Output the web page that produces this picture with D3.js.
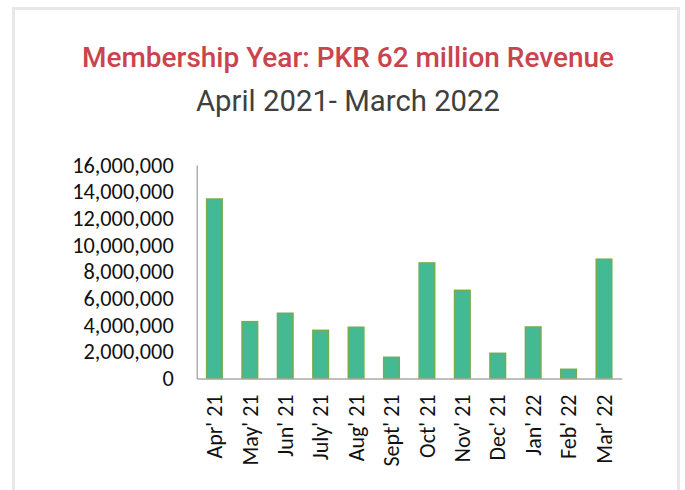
<!DOCTYPE html>
<html><head><meta charset="utf-8">
<script src="https://cdn.jsdelivr.net/npm/d3@7"></script>
<style>body{margin:0;background:#fff}svg{display:block}</style>
</head><body>
<svg id="c" width="685" height="490"></svg>
<script>
const titleText = "Membership Year: PKR 62 million Revenue";
const subtitleText = "April 2021- March 2022";
const months = ["Apr' 21","May' 21","Jun' 21","July' 21","Aug' 21","Sept' 21","Oct' 21","Nov' 21","Dec' 21","Jan' 22","Feb' 22","Mar' 22"];
const revenue = [13450000,4260000,4890000,3610000,3840000,1590000,8660000,6610000,1890000,3860000,690000,8940000];
const yTicks = [0,2000000,4000000,6000000,8000000,10000000,12000000,14000000,16000000];

const svg = d3.select("#c");
svg.append("rect").attr("x",13.5).attr("y",8.5).attr("width",665).attr("height",500)
  .attr("fill","none").attr("stroke","#e8e8e8").attr("stroke-width",3);

const t1 = svg.append("text").attr("x",348).attr("y",67).attr("text-anchor","middle")
  .attr("font-family","Roboto").attr("font-weight",500).attr("font-size",27).attr("fill","#c9444c").text(titleText);
const t2 = svg.append("text").attr("x",348).attr("y",111).attr("text-anchor","middle")
  .attr("font-family","Roboto").attr("font-size",29.5).attr("fill","#404040").text(subtitleText);
t1.attr("textLength",532).attr("lengthAdjust","spacingAndGlyphs");
t2.attr("textLength",304).attr("lengthAdjust","spacingAndGlyphs");

const x = d3.scaleBand().domain(months).range([196.7,621.7]).paddingInner(0.56).paddingOuter(0.28);
const y = d3.scaleLinear().domain([0,16000000]).range([378.5,165]);

const g = svg.append("g");
g.selectAll("rect.bar").data(revenue).join("rect").attr("class","bar")
  .attr("x",(d,i)=>x(months[i])).attr("width",x.bandwidth())
  .attr("y",d=>y(d)).attr("height",d=>y(0)-y(d))
  .attr("fill","#43ba94").attr("stroke","#74ad4c").attr("stroke-width",1.5);

const labelFont = "Carlito, Liberation Sans, Arial";
const yAxis = g.append("g").attr("transform","translate(196.7,0)")
  .call(d3.axisLeft(y).tickValues(yTicks).tickSize(0).tickPadding(23).tickFormat(d3.format(",")));
yAxis.select(".domain").attr("stroke","#999").attr("stroke-width",1.2);
yAxis.selectAll("text").attr("font-family",labelFont).attr("font-size",22.3).attr("fill","#111");

const xAxis = g.append("g").attr("transform","translate(0,378.5)")
  .call(d3.axisBottom(x).tickSize(0).tickPadding(0));
xAxis.select(".domain").attr("stroke","#aaa").attr("stroke-width",1.5);
xAxis.selectAll("text").attr("font-family",labelFont).attr("font-size",22).attr("fill","#111")
  .attr("transform","rotate(-90)").attr("text-anchor","end").attr("dy","0.35em").attr("x",-16).attr("y",0);
</script>
</body></html>
